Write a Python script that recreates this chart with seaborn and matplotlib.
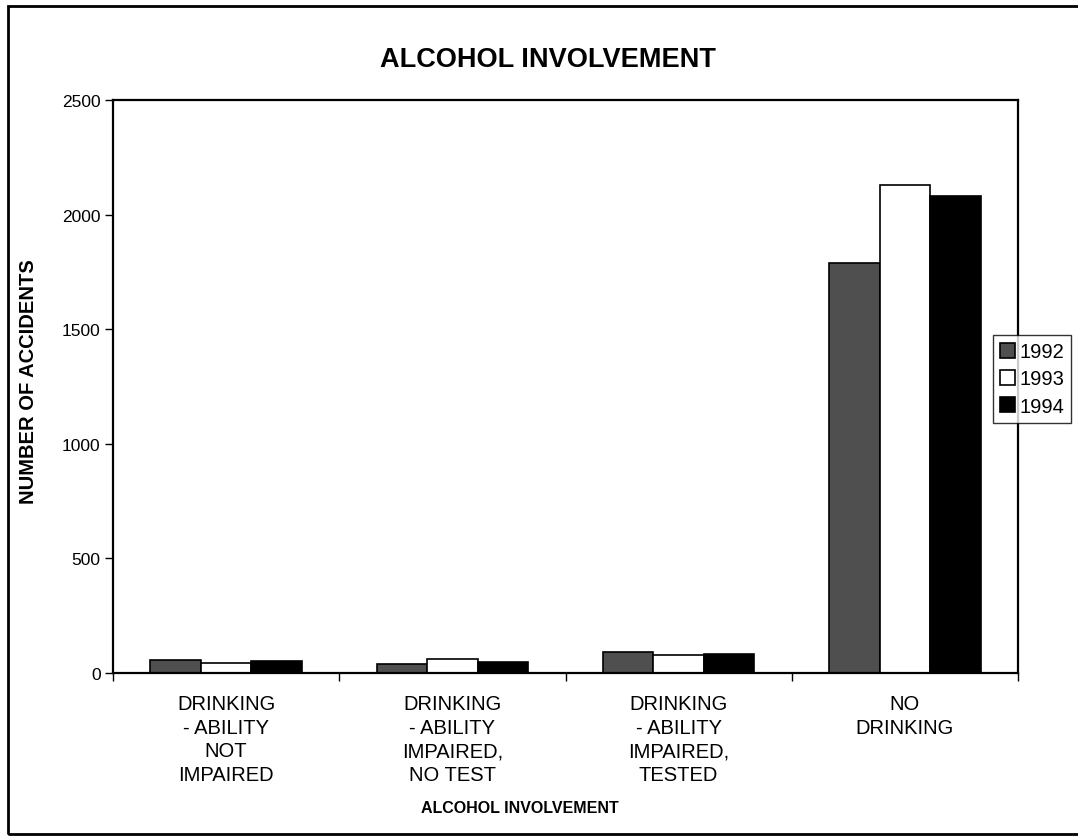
import matplotlib
matplotlib.use("Agg")
import matplotlib.pyplot as plt
import matplotlib.patches as mpatches
import seaborn as sns
import pandas as pd

categories = [
    "DRINKING\n- ABILITY\nNOT\nIMPAIRED",
    "DRINKING\n- ABILITY\nIMPAIRED,\nNO TEST",
    "DRINKING\n- ABILITY\nIMPAIRED,\nTESTED",
    "NO\nDRINKING",
]
years = ["1992", "1993", "1994"]
values_1992 = [58, 40, 92, 1790]
values_1993 = [42, 62, 80, 2130]
values_1994 = [52, 46, 82, 2080]
yticks = [0, 500, 1000, 1500, 2000, 2500]

rows = []
for yr, vals in zip(years, [values_1992, values_1993, values_1994]):
    for c, v in zip(categories, vals):
        rows.append({"cat": c, "year": yr, "value": v})
df = pd.DataFrame(rows)

sns.set_theme(style="white")
plt.rcParams["font.family"] = ["Liberation Sans", "DejaVu Sans"]
plt.rcParams["text.color"] = "black"
plt.rcParams["axes.labelcolor"] = "black"
plt.rcParams["xtick.color"] = "black"
plt.rcParams["ytick.color"] = "black"

fig = plt.figure(figsize=(10.78, 8.37), dpi=100)
ax = fig.add_axes([113 / 1078, 1 - 674 / 837, (1018 - 113) / 1078, (674 - 101) / 837])

colors = {"1992": "#4f4f4f", "1993": "#ffffff", "1994": "#000000"}
sns.barplot(data=df, x="cat", y="value", hue="year", hue_order=years,
            order=categories, palette=colors, width=0.67, gap=0,
            edgecolor="black", linewidth=1.2, saturation=1, ax=ax, legend=False)

ax.set_ylim(0, 2500)
ax.set_xlim(-0.5, 3.5)
ax.set_yticks(yticks)
ax.set_yticklabels([str(t) for t in yticks], fontsize=12.5)
ax.tick_params(axis="y", length=6, width=1, direction="out", left=True, pad=3)
ax.set_xticks([-0.5, 0.5, 1.5, 2.5, 3.5], minor=True)
ax.tick_params(axis="x", which="minor", length=6, width=1, direction="out", bottom=True)
ax.tick_params(axis="x", which="major", length=0, pad=15)
ax.set_xticklabels(categories, fontsize=14.5, linespacing=1.32)

for s in ax.spines.values():
    s.set_color("black")
    s.set_linewidth(1.6)

ax.set_xlabel("ALCOHOL INVOLVEMENT", fontsize=11.5, fontweight="bold")
ax.xaxis.set_label_coords((520 - 113) / 905, (674 - 801) / 573)
ax.set_ylabel("NUMBER OF ACCIDENTS", fontsize=14.5, fontweight="bold")
ax.yaxis.set_label_coords((38 - 113) / 905, (674 - 382) / 573)

fig.text(548 / 1078, 1 - 60 / 837, "ALCOHOL INVOLVEMENT", fontsize=19.5,
         fontweight="bold", ha="center", va="center")

handles = [mpatches.Patch(facecolor=colors[y], edgecolor="black", linewidth=1.2, label=y)
           for y in years]
leg = fig.legend(handles=handles, loc="center left",
                 bbox_to_anchor=(993 / 1078, 1 - 380 / 837), fontsize=14.5,
                 frameon=True, fancybox=False, handlelength=0.75, handleheight=0.75,
                 handletextpad=0.2, borderpad=0.35, labelspacing=0.4, borderaxespad=0)
leg.get_frame().set_edgecolor("black")
leg.get_frame().set_linewidth(1.0)

# outer frame
frame = mpatches.Rectangle((8 / 1078, 1 - 835 / 837), 1.2, (835 - 7) / 837,
                           transform=fig.transFigure, fill=False,
                           edgecolor="black", linewidth=2, clip_on=False)
fig.add_artist(frame)

fig.savefig("out.png", dpi=100)
